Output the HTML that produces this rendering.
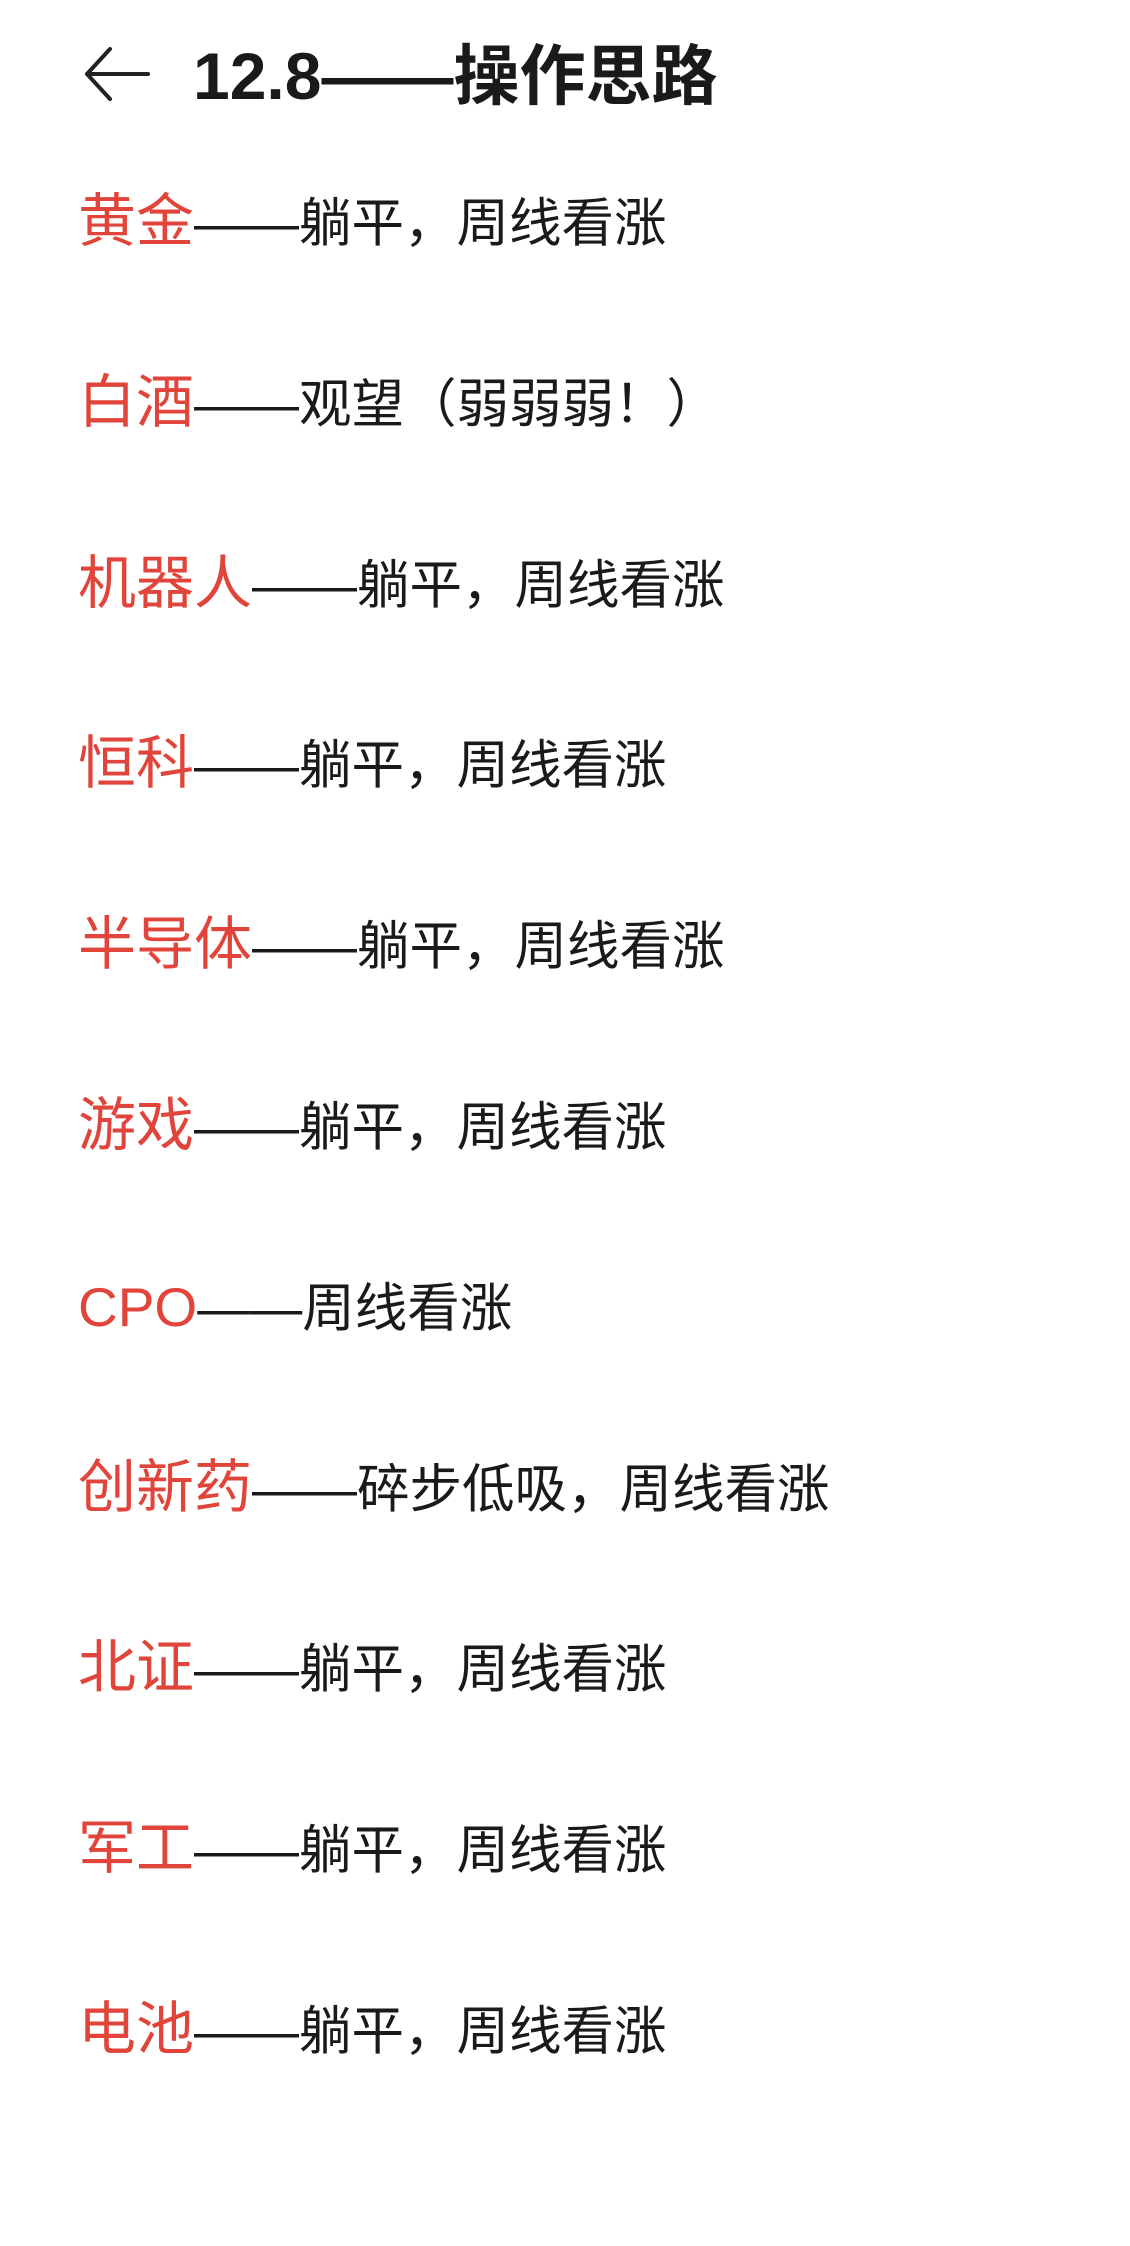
<!DOCTYPE html>
<html><head><meta charset="utf-8"><style>
html,body{margin:0;padding:0;background:#fff;}
body{width:1130px;height:2246px;position:relative;overflow:hidden;font-family:"Liberation Sans","Noto Sans CJK SC",sans-serif;}
.t{position:absolute;left:193px;top:38px;height:76px;line-height:76px;font-size:66px;color:#1a1a1a;font-weight:bold;white-space:nowrap;}
.r{position:absolute;left:78px;height:80px;line-height:80px;white-space:nowrap;font-size:52.5px;color:#1a1a1a;}
.r b{font-weight:normal;color:#e0443a;font-size:58px;}
</style></head><body>
<svg style="position:absolute;left:82px;top:44px" width="70" height="60" viewBox="0 0 70 60">
<path d="M28 5 L5 30 L28 55 M5 30 L66 30" fill="none" stroke="#222" stroke-width="4" stroke-linecap="round" stroke-linejoin="round"/></svg>
<div class="t">12.8——操作思路</div>
<div class="r" style="top:182px"><b>黄金</b>——躺平，周线看涨</div>
<div class="r" style="top:363px"><b>白酒</b>——观望（弱弱弱！）</div>
<div class="r" style="top:544px"><b>机器人</b>——躺平，周线看涨</div>
<div class="r" style="top:724px"><b>恒科</b>——躺平，周线看涨</div>
<div class="r" style="top:905px"><b>半导体</b>——躺平，周线看涨</div>
<div class="r" style="top:1086px"><b>游戏</b>——躺平，周线看涨</div>
<div class="r" style="top:1267px"><b style="font-size:55px">CPO</b>——周线看涨</div>
<div class="r" style="top:1448px"><b>创新药</b>——碎步低吸，周线看涨</div>
<div class="r" style="top:1628px"><b>北证</b>——躺平，周线看涨</div>
<div class="r" style="top:1809px"><b>军工</b>——躺平，周线看涨</div>
<div class="r" style="top:1990px"><b>电池</b>——躺平，周线看涨</div>
</body></html>
